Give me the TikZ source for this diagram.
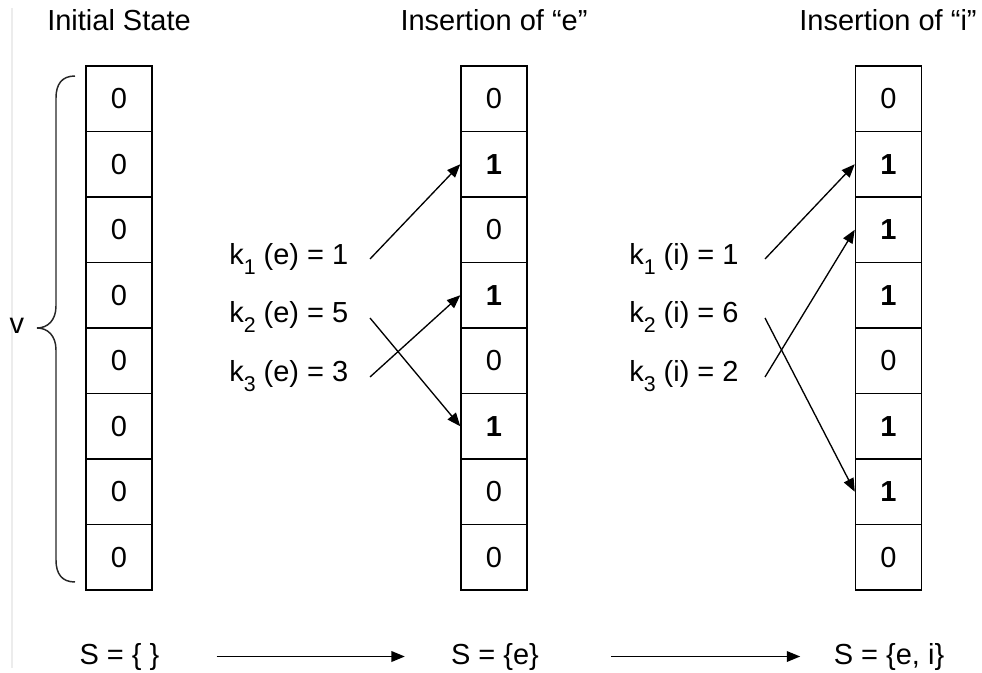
\documentclass[tikz,border=0pt]{standalone}
\usepackage{fontspec}
\setmainfont{Liberation Sans}
\usetikzlibrary{arrows.meta}
\newcommand\ksub[1]{\raisebox{-7.5pt}{\fontsize{16}{17}\selectfont #1}}
\begin{document}
\begin{tikzpicture}[x=0.75pt,y=-0.75pt,
  txt/.style={inner sep=0pt,font=\fontsize{21.75}{26}\selectfont},
  cell/.style={draw,line width=1.1pt,minimum width=49.5pt,minimum height=49.125pt,inner sep=0pt,font=\fontsize{21.75}{26}\selectfont},
  arr/.style={line width=1pt,-{Triangle[length=10pt,width=8pt]}}]
\useasboundingbox (0,0) rectangle (982,673);
\draw[gray!15,line width=0.8pt] (12,8) -- (12,668);
% titles
\node[txt,anchor=base] (t1) at (119,31) {Initial State};
\node[txt,anchor=base] (t2) at (494,31) {Insertion of “e”};
\node[txt,anchor=base] (t3) at (888,31) {Insertion of “i”};
% columns
\foreach \v [count=\i from 0] in {0,0,0,0,0,0,0,0}
  \node[cell] (a\i) at (119,98.75+65.5*\i) {\v};
\foreach \v [count=\i from 0] in {0,\textbf{1},0,\textbf{1},0,\textbf{1},0,0}
  \node[cell] (b\i) at (494,98.75+65.5*\i) {\v};
\foreach \v [count=\i from 0] in {0,\textbf{1},\textbf{1},\textbf{1},0,\textbf{1},\textbf{1},0}
  \node[cell] (c\i) at (888.5,98.75+65.5*\i) {\v};
% brace
\draw[line width=1.1pt,black!85] (75,76) .. controls (62,76) and (56,84) .. (56,98) -- (56,306)
  .. controls (56,320) and (48,328) .. (37,328) .. controls (48,328) and (56,336) .. (56,350)
  -- (56,560) .. controls (56,574) and (62,582) .. (75,582);
\node[txt] (v) at (17,326) {v};
% labels e
\node[txt,anchor=base west] (k1e) at (229,265) {k\ksub{1} (e) = 1};
\node[txt,anchor=base west] (k2e) at (229,323) {k\ksub{2} (e) = 5};
\node[txt,anchor=base west] (k3e) at (229,382) {k\ksub{3} (e) = 3};
\coordinate (e1s) at (370,259);
\coordinate (e2s) at (370,318);
\coordinate (e3s) at (370,377);
\draw[arr] (e1s) -- (b1.west);
\draw[arr] (e2s) -- (b5.west);
\draw[arr] (e3s) -- (b3.west);
% labels i
\node[txt,anchor=base west] (k1i) at (629,265) {k\ksub{1} (i) = 1};
\node[txt,anchor=base west] (k2i) at (629,323) {k\ksub{2} (i) = 6};
\node[txt,anchor=base west] (k3i) at (629,382) {k\ksub{3} (i) = 2};
\coordinate (i1s) at (765,259);
\coordinate (i2s) at (765,318);
\coordinate (i3s) at (765,377);
\draw[arr] (i1s) -- (c1.west);
\draw[arr] (i2s) -- (c6.west);
\draw[arr] (i3s) -- (c2.west);
% sets
\node[txt,anchor=base] (s0) at (119.5,664) {S = \{ \}};
\node[txt,anchor=base] (s1) at (495,664) {S = \{e\}};
\node[txt,anchor=base] (s2) at (889,664) {S = \{e, i\}};
\draw[arr] ([xshift=42.75pt]s0.east) -- ([xshift=-34.5pt]s1.west);
\draw[arr] ([xshift=54pt]s1.east) -- ([xshift=-25pt]s2.west);
\end{tikzpicture}
\end{document}
